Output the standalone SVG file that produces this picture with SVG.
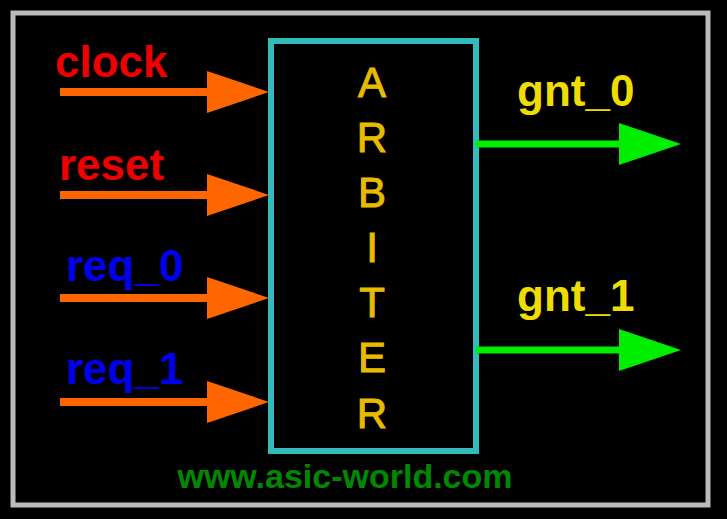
<svg xmlns="http://www.w3.org/2000/svg" width="727" height="519" viewBox="0 0 727 519">
<style>
.lbl{font-family:"Liberation Sans",Arial,sans-serif;font-weight:bold;font-size:44px}
.red{fill:#ee0000}
.blue{fill:#0000ee}
.yel{fill:#eedd00}
.in{stroke:#ff6600;stroke-width:8;fill:none}
.out{stroke:#00ee00;stroke-width:7;fill:none}
.ahin{fill:#ff6600}
.ahout{fill:#00ee00}
.arb{font-family:"Liberation Sans",Arial,sans-serif;font-size:42px;fill:#e8bb00;stroke:#e8bb00;stroke-width:1;text-anchor:middle}
</style>
<rect x="0" y="0" width="727" height="519" fill="#000"/>
<rect x="13" y="13" width="695" height="492" fill="#000" stroke="#bbbbbb" stroke-width="5"/>
<g id="arbiter">
<rect x="271" y="41" width="205" height="410" fill="#000" stroke="#33bbbb" stroke-width="6"/>
<text class="arb" x="372" y="97">A</text>
<text class="arb" x="372" y="152">R</text>
<text class="arb" x="372" y="207">B</text>
<text class="arb" x="372" y="262">I</text>
<text class="arb" x="372" y="317">T</text>
<text class="arb" x="372" y="372">E</text>
<text class="arb" x="372" y="428">R</text>
</g>
<g id="labels">
<text class="lbl red" x="55" y="77">clock</text>
<text class="lbl red" x="59" y="180">reset</text>
<text class="lbl blue" x="66" y="281">req_0</text>
<text class="lbl blue" x="66" y="384">req_1</text>
<text class="lbl yel" x="517" y="106">gnt_0</text>
<text class="lbl yel" x="517" y="311">gnt_1</text>
</g>
<g id="connectors">
<line class="in" x1="60" y1="92" x2="210" y2="92"/>
<polygon class="ahin" points="207,71 269,92 207,113"/>
<line class="in" x1="60" y1="195" x2="210" y2="195"/>
<polygon class="ahin" points="207,174 269,195 207,216"/>
<line class="in" x1="60" y1="298" x2="210" y2="298"/>
<polygon class="ahin" points="207,277 269,298 207,319"/>
<line class="in" x1="60" y1="402" x2="210" y2="402"/>
<polygon class="ahin" points="207,381 269,402 207,423"/>
<line class="out" x1="476" y1="144" x2="622" y2="144"/>
<polygon class="ahout" points="619,123 681,144 619,165"/>
<line class="out" x1="476" y1="350" x2="622" y2="350"/>
<polygon class="ahout" points="619,329 681,350 619,371"/>
</g>
<text id="footer" x="345" y="488" text-anchor="middle" style="font-family:'Liberation Sans',Arial,sans-serif;font-weight:bold;font-size:34px;fill:#008800">www.asic-world.com</text>
</svg>
